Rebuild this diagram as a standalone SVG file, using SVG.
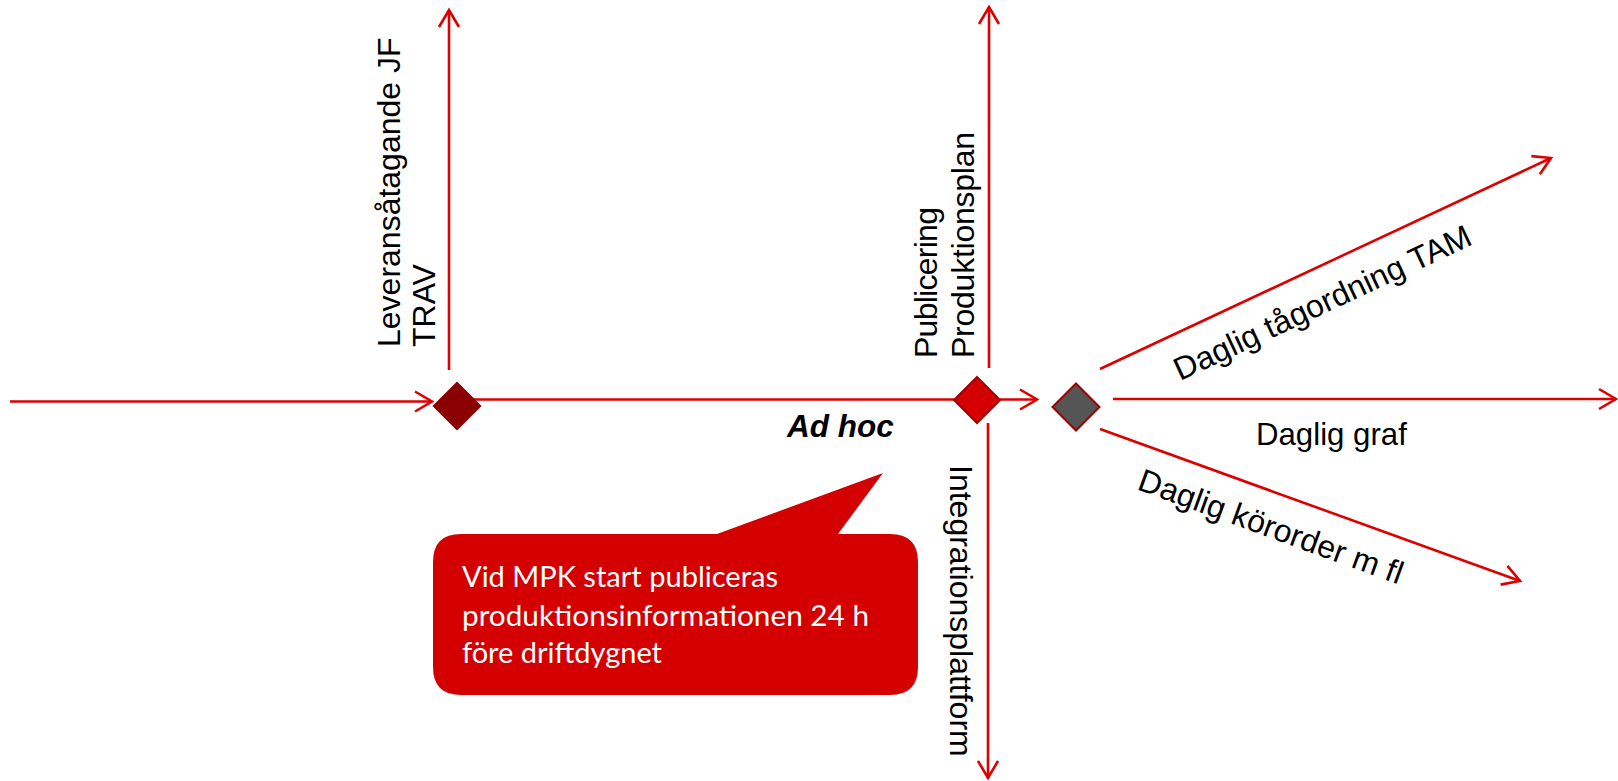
<svg xmlns="http://www.w3.org/2000/svg" width="1618" height="781" viewBox="0 0 1618 781">
<style>
.ln{stroke:#dd0000;stroke-width:2.6;fill:none}
.t{font-family:"Liberation Sans",Arial,sans-serif;font-size:32px;fill:#000}
.ct{font-family:Lato,"Liberation Sans",sans-serif;font-size:28px;fill:#fff}
</style>
<defs>
<marker id="arr" markerUnits="userSpaceOnUse" viewBox="-20 -12 22 24" refX="0" refY="0" markerWidth="22" markerHeight="24" orient="auto" overflow="visible">
<path d="M -17 -10 L 0 0 L -17 10" fill="none" stroke="#dd0000" stroke-width="2.6"/>
</marker>
</defs>
<rect width="1618" height="781" fill="#fff"/>
<g id="connectors">
<line class="ln" x1="10" y1="401.5" x2="432" y2="401.5" marker-end="url(#arr)"/>
<line class="ln" x1="457" y1="399.5" x2="977" y2="399.5"/>
<line class="ln" x1="449" y1="370" x2="449" y2="10" marker-end="url(#arr)"/>
<line class="ln" x1="989" y1="368" x2="989" y2="7" marker-end="url(#arr)"/>
<line class="ln" x1="988" y1="423" x2="988" y2="778" marker-end="url(#arr)"/>
<line class="ln" x1="1000" y1="399.5" x2="1037" y2="399.5" marker-end="url(#arr)"/>
<line class="ln" x1="1113" y1="399" x2="1616" y2="399" marker-end="url(#arr)"/>
<line class="ln" x1="1100" y1="369" x2="1551" y2="158" marker-end="url(#arr)"/>
<line class="ln" x1="1100" y1="429" x2="1520" y2="581" marker-end="url(#arr)"/>
</g>
<g id="node-leverans">
<path d="M457 382.5 L480.5 406 L457 429.5 L433.5 406 Z" fill="#8b0000" stroke="#8b0000" stroke-width="1.5"/>
<text class="t" transform="translate(400,347) rotate(-90)">Leveransåtagande JF</text>
<text class="t" transform="translate(435,347) rotate(-90)">TRAV</text>
</g>
<g id="node-publicering">
<path d="M977 377 L1000 400 L977 423 L954 400 Z" fill="#d40000" stroke="#a00000" stroke-width="2"/>
<text class="t" transform="translate(937,358) rotate(-90)" textLength="151">Publicering</text>
<text class="t" transform="translate(974,358) rotate(-90)" textLength="226">Produktionsplan</text>
<text class="t" transform="translate(950,465) rotate(90)">Integrationsplattform</text>
</g>
<g id="node-daglig">
<path d="M1076 383.5 L1099.5 407 L1076 430.5 L1052.5 407 Z" fill="#555555" stroke="#a00000" stroke-width="2"/>
<text class="t" transform="translate(1180,381) rotate(-25)">Daglig tågordning TAM</text>
<text class="t" x="1256" y="445" style="font-size:31.2px">Daglig graf</text>
<text class="t" transform="translate(1136,489) rotate(20)">Daglig körorder m fl</text>
</g>
<g id="label-adhoc">
<text class="t" x="787" y="437" font-weight="bold" font-style="italic" style="font-size:31.5px">Ad hoc</text>
</g>
<g id="callout">
<path d="M461 534 L717 534 L883 473 L838 534 L890 534 Q918 534 918 562 L918 667 Q918 695 890 695 L461 695 Q433 695 433 667 L433 562 Q433 534 461 534 Z" fill="#d40000"/>
<text class="ct" x="462" y="587" textLength="316" lengthAdjust="spacingAndGlyphs">Vid MPK start publiceras</text>
<text class="ct" x="462" y="626" textLength="407" lengthAdjust="spacingAndGlyphs">produktionsinformationen 24 h</text>
<text class="ct" x="462" y="663" textLength="200" lengthAdjust="spacingAndGlyphs">före driftdygnet</text>
</g>
</svg>
